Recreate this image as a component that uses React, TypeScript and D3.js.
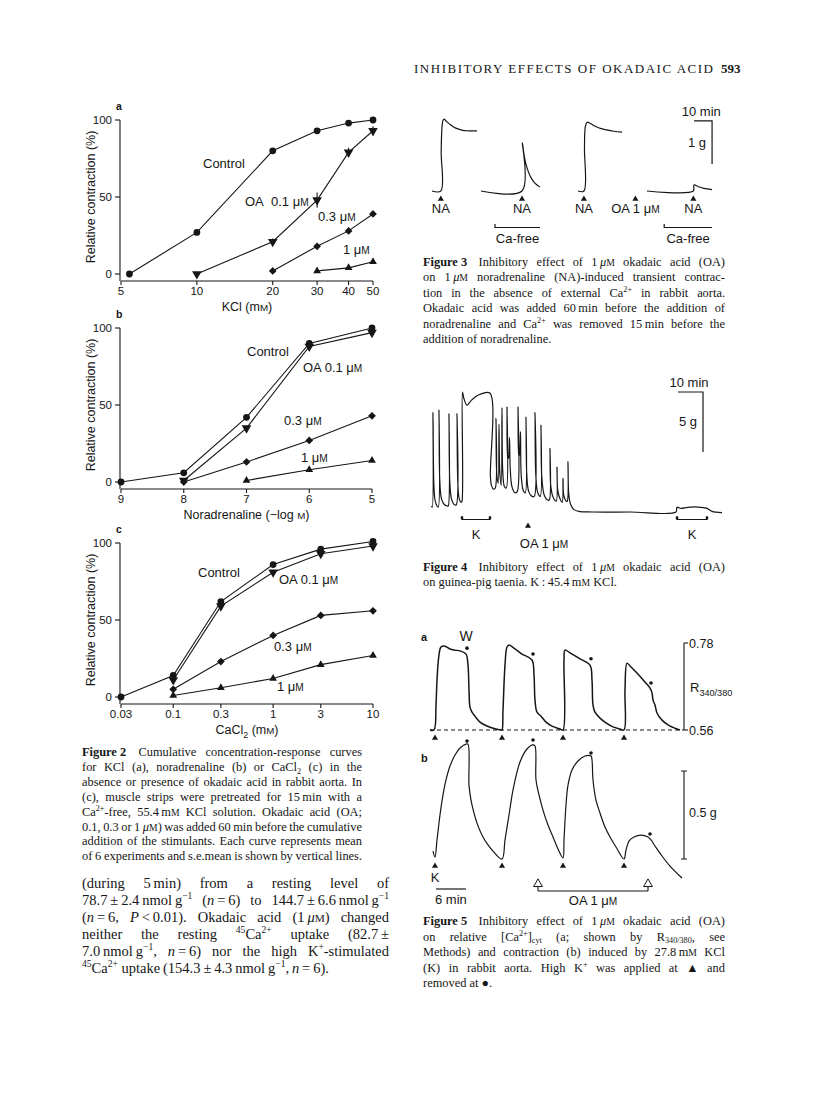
import React from 'react';
import * as d3 from 'd3';

const SANS = '"Liberation Sans", Arial, Helvetica, sans-serif';
const SERIF = '"Liberation Serif", "Times New Roman", Times, serif';
const INK = '#161616';

// running head
const runningHead = 'INHIBITORY EFFECTS OF OKADAIC ACID';
const pageNumber = '593';

// ---------- Figure 2 (relative contraction, %) ----------
const yTicks = [0, 50, 100];

const kclTicks = [5, 10, 20, 30, 40, 50];
const kclControl = [[5.4, 0], [10, 27], [20, 80], [30, 93], [40, 98], [50, 100]];
const kclOA01 = [[10, 0], [20, 21], [30, 48], [40, 79], [50, 93]];
const kclOA01Sem = [0, 2, 5, 3, 3];
const kclOA03 = [[20, 2], [30, 18], [40, 28], [50, 39]];
const kclOA1 = [[30, 2], [40, 4], [50, 8]];

const naTicks = [9, 8, 7, 6, 5];
const naControl = [[9, 0], [8, 6], [7, 42], [6, 90], [5, 100]];
const naOA01 = [[8, 1], [7, 35], [6, 88], [5, 97]];
const naOA03 = [[8, 0], [7, 13], [6, 27], [5, 43]];
const naOA1 = [[7, 1], [6, 8], [5, 14]];

const caTicks = [0.03, 0.1, 0.3, 1, 3, 10];
const caControl = [[0.03, 0], [0.1, 14], [0.3, 62], [1, 86], [3, 96], [10, 101]];
const caOA01 = [[0.1, 11], [0.3, 59], [1, 81], [3, 93], [10, 98]];
const caOA03 = [[0.1, 5], [0.3, 23], [1, 40], [3, 53], [10, 56]];
const caOA1 = [[0.1, 1], [0.3, 6], [1, 12], [3, 21], [10, 27]];

const titleA = 'KCl (m{M})';
const titleB = 'Noradrenaline (\u2212log {M})';
const titleC = 'CaCl_{2} (m{M})';

// ---------- Figure 3 (tension g vs min) ----------
const fig3Trace1 = [[0, 0], [4.9, 0], [5.1, 0.9], [5.5, 1.45], [6.1, 1.64], [6.8, 1.67], [8, 1.62], [10, 1.55], [12, 1.49], [14, 1.45], [17, 1.41], [20, 1.4], [25, 1.4]];
const fig3Trace2 = [[27.2, 0], [50, 0], [50.2, 1.12], [51, 0.88], [52, 0.66], [53.5, 0.45], [55, 0.31], [57, 0.19], [60, 0.09]];
const fig3Trace3 = [[81.1, 0], [84.4, 0], [84.7, 1.0], [85.2, 1.5], [86.2, 1.6], [88, 1.57], [91, 1.5], [94, 1.45], [97, 1.42], [101, 1.39], [105.6, 1.37]];
const fig3Trace4 = [[119.4, 0], [145.2, 0], [145.5, 0.14], [148, 0.1], [151, 0.06], [155.6, 0.03]];
const fig3Stim = [[4.9, 'NA'], [50, 'NA'], [84.4, 'NA'], [113, 'OA 1 μ{M}'], [145.2, 'NA']];
const fig3CaFree = [[35, 60], [129, 155.6]];

// ---------- Figure 4 (tension g vs min) ----------
const fig4Trace = [
  [0.6, 0.5], [0.9, 0.4], [1.2, 8.3], [1.5, 2.6], [2.0, 1.0], [2.8, 0.5], [3.3, 0.4], [3.6, 8.5], [3.9, 2.7], [4.6, 1.1],
  [5.8, 0.6], [7.0, 0.5], [7.3, 0.5], [7.6, 8.2], [7.9, 2.6], [8.6, 1.1], [9.8, 0.6], [10.5, 0.6], [10.8, 8.2], [11.1, 2.6],
  [11.7, 1.1], [12.5, 0.8], [12.8, 0.9], [13.0, 10.0], [13.5, 9.5], [14.8, 8.9], [16.5, 9.3], [18.5, 9.65], [20.5, 9.85], [24.0, 9.9],
  [24.15, 3.0], [24.6, 2.2], [25.4, 1.9], [26.1, 2.0], [26.4, 7.8], [26.7, 3.2], [27.3, 2.4], [27.6, 7.3], [27.9, 3.4], [28.5, 2.2],
  [28.8, 8.7], [29.1, 3.4], [29.8, 2.1], [30.5, 2.0], [30.8, 8.75], [31.1, 4.4], [31.5, 4.6], [31.8, 6.2], [32.1, 3.6], [32.8, 2.1],
  [34.0, 1.6], [34.9, 1.7], [35.2, 8.75], [35.5, 4.6], [35.9, 4.9], [36.2, 6.7], [36.5, 3.0], [37.3, 1.8], [38.1, 1.6], [38.4, 7.9],
  [38.7, 3.2], [39.5, 1.7], [40.8, 1.3], [41.7, 1.3], [42.0, 8.3], [42.3, 3.2], [43.1, 1.6], [44.1, 1.3], [44.4, 7.25], [44.7, 3.0],
  [45.7, 1.4], [47.0, 1.0], [47.7, 1.0], [48.0, 5.3], [48.3, 2.2], [49.3, 1.2], [50.5, 0.9], [50.8, 3.75], [51.1, 1.8], [52.2, 1.0],
  [52.9, 0.8], [53.2, 2.8], [53.5, 1.4], [54.5, 0.9], [54.9, 0.9], [55.2, 4.2], [55.5, 1.5], [56.3, 0.6], [57.6, 0.2], [59.5, 0.05],
  [65, 0], [80, 0], [98.4, 0], [98.8, 0.4], [100.4, 0.3], [103, 0.38], [106, 0.42], [108.5, 0.38], [110.8, 0.3], [112.8, 0.05], [116.8, -0.05],
];
const fig4OA = 39.2;
const fig4K = [[12.8, 24.0], [98.8, 110.8]];

// ---------- Figure 5 ----------
const fig5aTrace = [
  [0, 0.56], [0.8, 0.56], [1.2, 0.623], [1.4, 0.686], [1.8, 0.75], [2.2, 0.77], [3.0, 0.772], [4.0, 0.765], [5.0, 0.762], [6.0, 0.76],
  [7.2, 0.752], [7.6, 0.724], [7.8, 0.661], [8.0, 0.618], [8.4, 0.605], [9.0, 0.595], [10.0, 0.58], [11.4, 0.57], [13.0, 0.563], [14.2, 0.56],
  [14.4, 0.56], [14.6, 0.61], [15.0, 0.724], [15.4, 0.77], [15.8, 0.775], [17.0, 0.765], [18.4, 0.752], [20.4, 0.737], [20.8, 0.699], [21.0, 0.636],
  [21.4, 0.605], [22.2, 0.595], [23.2, 0.58], [24.4, 0.57], [26.0, 0.5625], [26.6, 0.56],
  [26.8, 0.737], [27.0, 0.762], [28.0, 0.755], [30.0, 0.74], [32.0, 0.724], [32.4, 0.686], [32.6, 0.623], [33.0, 0.605], [34.0, 0.59],
  [35.2, 0.578], [36.6, 0.568], [38.0, 0.5625], [38.8, 0.56],
  [39.0, 0.661], [39.4, 0.729], [40.0, 0.722], [41.4, 0.704], [43.0, 0.681], [44.0, 0.666], [44.4, 0.654], [44.6, 0.636], [45.0, 0.623],
  [45.4, 0.603], [46.4, 0.585], [47.6, 0.573], [49.4, 0.5625], [50.0, 0.56],
];
const fig5bTrace = [
  [0.6, 0.045], [1.0, 0.011], [1.4, 0.108], [2.0, 0.25], [2.6, 0.364], [3.2, 0.449], [4.0, 0.528], [5.0, 0.591], [6.0, 0.631], [7.2, 0.653],
  [7.6, 0.653], [7.8, 0.42], [8.2, 0.335], [8.8, 0.261], [9.6, 0.188], [10.6, 0.125], [11.6, 0.08], [12.6, 0.045], [14.4, 0.0],
  [15.0, 0.108], [15.8, 0.25], [16.6, 0.392], [18.0, 0.551], [19.4, 0.625], [20.6, 0.648], [21.0, 0.642], [21.2, 0.449], [21.8, 0.364],
  [22.6, 0.278], [23.6, 0.193], [24.6, 0.125], [25.6, 0.057], [26.6, 0.006],
  [26.8, 0.108], [27.2, 0.307], [27.6, 0.42], [28.4, 0.506], [29.6, 0.557], [31.0, 0.585], [32.2, 0.585], [32.4, 0.5625], [32.6, 0.449],
  [33.2, 0.335], [34.0, 0.261], [35.0, 0.182], [36.0, 0.125], [37.2, 0.068], [38.8, 0.0],
  [39.2, 0.051], [39.8, 0.102], [40.8, 0.125], [42.2, 0.136], [43.6, 0.125], [44.2, 0.108], [45.0, 0.074], [46.4, 0.017], [48.0, -0.04], [50.4, -0.108],
];
const fig5Stim = [1.0, 14.4, 26.6, 38.8];
const fig5aWash = [[7.4, 0.767], [20.6, 0.752], [32.2, 0.74], [44.2, 0.679]];
const fig5bWash = [[7.4, 0.67], [20.6, 0.676], [32.2, 0.602], [44.0, 0.142]];
const fig5OA = [21.6, 43.6];

// ---------- text blocks ----------
const caption2 = [
  '!{Figure\u00a02}\u00a0 Cumulative concentration-response curves',
  'for KCl (a), noradrenaline (b) or CaCl_{2} (c) in the',
  'absence or presence of okadaic acid in rabbit aorta. In',
  '(c), muscle strips were pretreated for 15\u2009min with a',
  'Ca^{2+}-free, 55.4\u2009m~{m} KCl solution. Okadaic acid (OA;',
  '0.1, 0.3 or 1\u2009*{μ}~{m}) was added 60\u2009min before the cumulative',
  'addition of the stimulants. Each curve represents mean',
  'of 6 experiments and s.e.mean is shown by vertical lines.',
];
const bodyText = [
  '(during 5\u2009min) from a resting level of',
  '78.7\u2009±\u20092.4\u2009nmol\u2009g^{\u22121} (*{n}\u2009=\u20096) to 144.7\u2009±\u20096.6\u2009nmol\u2009g^{\u22121}',
  '(*{n}\u2009=\u20096, *{P}\u2009<\u20090.01). Okadaic acid (1\u2009*{μ}~{m}) changed',
  'neither the resting ^{45}Ca^{2+} uptake (82.7\u2009±',
  '7.0\u2009nmol\u2009g^{\u22121}, *{n}\u2009=\u20096) nor the high K^{+}-stimulated',
  '^{45}Ca^{2+} uptake\u2009(154.3\u2009±\u20094.3\u2009nmol\u2009g^{\u22121},\u2009*{n}\u2009=\u20096).',
];
const caption3 = [
  '!{Figure\u00a03}\u00a0 Inhibitory effect of 1\u2009*{μ}~{m} okadaic acid (OA)',
  'on 1\u2009*{μ}~{m} noradrenaline (NA)-induced transient contrac-',
  'tion in the absence of external Ca^{2+} in rabbit aorta.',
  'Okadaic acid was added 60\u2009min before the addition of',
  'noradrenaline and Ca^{2+} was removed 15\u2009min before the',
  'addition of noradrenaline.',
];
const caption4 = [
  '!{Figure\u00a04}\u00a0 Inhibitory effect of 1\u2009*{μ}~{m} okadaic acid (OA)',
  'on guinea-pig taenia. K\u2009:\u200945.4\u2009m~{m} KCl.',
];
const caption5 = [
  '!{Figure\u00a05}\u00a0 Inhibitory effect of 1\u2009*{μ}~{m} okadaic acid (OA)',
  'on relative [Ca^{2+}]_{cyt} (a; shown by R_{340/380}, see',
  'Methods) and contraction (b) induced by 27.8\u2009m~{m} KCl',
  '(K) in rabbit aorta. High K^{+} was applied at \u25b2 and',
  'removed at \u25cf.',
];

// ---------- helpers ----------
let ctx: CanvasRenderingContext2D | null = null;
function measure(t: string, font: string) {
  if (!ctx) ctx = document.createElement('canvas').getContext('2d');
  ctx!.font = font;
  return ctx!.measureText(t).width;
}

type Seg = { t: string; k: string };
function parseWord(w: string): Seg[] {
  const out: Seg[] = [];
  const re = /([\^_~*!])\{([^}]*)\}/g;
  let last = 0;
  let m: RegExpExecArray | null;
  while ((m = re.exec(w))) {
    if (m.index > last) out.push({ t: w.slice(last, m.index), k: '' });
    out.push({ t: m[2], k: m[1] });
    last = re.lastIndex;
  }
  if (last < w.length) out.push({ t: w.slice(last), k: '' });
  return out;
}

function segStyle(s: Seg, fs: number) {
  const size = s.k === '^' || s.k === '_' ? fs * 0.66 : s.k === '~' ? fs * 0.78 : fs;
  return {
    size,
    italic: s.k === '*',
    bold: s.k === '!',
    dy: s.k === '^' ? -fs * 0.38 : s.k === '_' ? fs * 0.22 : 0,
    text: s.k === '~' ? s.t.toUpperCase() : s.t,
  };
}

function Para({ lines, x, y, width, lh, fs, ragged = [] }: { lines: string[]; x: number; y: number; width: number; lh: number; fs: number; ragged?: number[] }) {
  const space = measure(' ', `${fs}px ${SERIF}`);
  return (
    <g fontFamily={SERIF} fontSize={fs} fill={INK}>
      {lines.map((ln, i) => {
        const words = ln.split(' ').filter(Boolean).map(parseWord);
        const widths = words.map(w =>
          w.reduce((a, s) => {
            const st = segStyle(s, fs);
            return a + measure(st.text, `${st.italic ? 'italic ' : ''}${st.bold ? 'bold ' : ''}${st.size}px ${SERIF}`);
          }, 0)
        );
        const total = widths.reduce((a, b) => a + b, 0);
        const gap = ragged.includes(i) || words.length < 2 ? space : Math.max(space * 0.5, (width - total) / (words.length - 1));
        let cx = x;
        return words.map((w, j) => {
          let cur = 0;
          const node = (
            <text key={`${i}-${j}`} x={cx} y={y + i * lh}>
              {w.map((s, k) => {
                const st = segStyle(s, fs);
                const d = st.dy - cur;
                cur = st.dy;
                return (
                  <tspan key={k} dy={d ? d : undefined} fontSize={st.size} fontStyle={st.italic ? 'italic' : undefined} fontWeight={st.bold ? 'bold' : undefined}>
                    {st.text}
                  </tspan>
                );
              })}
            </text>
          );
          cx += widths[j] + gap;
          return node;
        });
      })}
    </g>
  );
}

function SansText({ x, y, s, size = 13, anchor = 'start', weight }: { x: number; y: number; s: string; size?: number; anchor?: string; weight?: string }) {
  const tokens = s.split(/(\{M\}|_\{[^}]*\})/).filter(t => t !== '');
  let cur = 0;
  return (
    <text x={x} y={y} fontFamily={SANS} fontSize={size} textAnchor={anchor} fontWeight={weight} fill={INK}>
      {tokens.map((t, i) => {
        let txt = t;
        let fs = size;
        let dy = 0;
        if (t === '{M}') { txt = 'M'; fs = size * 0.78; }
        else if (t.startsWith('_{')) { txt = t.slice(2, -1); fs = size * 0.7; dy = size * 0.28; }
        const d = dy - cur;
        cur = dy;
        return <tspan key={i} fontSize={fs} dy={d ? d : undefined}>{txt}</tspan>;
      })}
    </text>
  );
}

const symCircle = d3.symbol().type(d3.symbolCircle).size(36)()!;
const symTri = d3.symbol().type(d3.symbolTriangle).size(40)()!;
const symSquare = d3.symbol().type(d3.symbolSquare).size(30)()!;
const symSmallTri = d3.symbol().type(d3.symbolTriangle).size(26)()!;
const symArrow = d3.symbol().type(d3.symbolTriangle).size(16)()!;
const symOpenTri = d3.symbol().type(d3.symbolTriangle).size(34)()!;

function Marker({ kind, cx, cy }: { kind: string; cx: number; cy: number }) {
  const d = kind === 'circle' ? symCircle : kind === 'down' ? symTri : kind === 'diamond' ? symSquare : symSmallTri;
  const rot = kind === 'down' ? ' rotate(180)' : kind === 'diamond' ? ' rotate(45)' : '';
  return <path d={d} transform={`translate(${cx},${cy})${rot}`} fill={INK} />;
}

type Series = { pts: number[][]; kind: string; sem?: number[] };

function DosePanel({ letter, y0, x, ticks, tickFmt, series, labels, title }: {
  letter: string; y0: number; x: any; ticks: number[]; tickFmt: (v: number) => string;
  series: Series[]; labels: [string, number, number][]; title: string;
}) {
  const y = d3.scaleLinear().domain([0, 100]).range([y0, y0 - 154]);
  const axisY = y0 + 7;
  const axisX = 120;
  const [xa, xb] = x.range();
  const line = d3.line<number[]>().x(d => x(d[0])).y(d => y(d[1]));
  return (
    <g>
      <text x={axisX - 4} y={y(100) - 10} fontFamily={SANS} fontSize={10.5} fontWeight="bold" fill={INK}>{letter}</text>
      <line x1={axisX} x2={axisX} y1={y(100)} y2={axisY} stroke={INK} strokeWidth={1.1} />
      {yTicks.map(v => (
        <g key={v}>
          <line x1={axisX - 5} x2={axisX} y1={y(v)} y2={y(v)} stroke={INK} strokeWidth={1.1} />
          <text x={axisX - 8} y={y(v) + 4} textAnchor="end" fontFamily={SANS} fontSize={11.5} fill={INK}>{v}</text>
        </g>
      ))}
      <line x1={xa} x2={xb} y1={axisY} y2={axisY} stroke={INK} strokeWidth={1.1} />
      {ticks.map(v => (
        <g key={v}>
          <line x1={x(v)} x2={x(v)} y1={axisY} y2={axisY + 4} stroke={INK} strokeWidth={1.1} />
          <text x={x(v)} y={axisY + 14} textAnchor="middle" fontFamily={SANS} fontSize={11.5} fill={INK}>{tickFmt(v)}</text>
        </g>
      ))}
      <SansText x={(xa + xb) / 2} y={axisY + 30} s={title} size={12.5} anchor="middle" />
      <text transform={`translate(95,${y(50)}) rotate(-90)`} textAnchor="middle" fontFamily={SANS} fontSize={12.5} fill={INK}>Relative contraction (%)</text>
      {series.map((s, i) => (
        <g key={i}>
          <path d={line(s.pts)!} fill="none" stroke={INK} strokeWidth={1.1} />
          {s.sem && s.pts.map((p, j) => s.sem![j] > 0 && (
            <line key={j} x1={x(p[0])} x2={x(p[0])} y1={y(p[1] - s.sem![j])} y2={y(p[1] + s.sem![j])} stroke={INK} strokeWidth={1.1} />
          ))}
          {s.pts.map((p, j) => <Marker key={j} kind={s.kind} cx={x(p[0])} cy={y(p[1])} />)}
        </g>
      ))}
      {labels.map(([t, lx, ly]) => <SansText key={t} x={lx} y={ly} s={t} />)}
    </g>
  );
}

function Figure2() {
  const xa = d3.scaleLog().domain([5, 50]).range([121, 373]);
  const xb = d3.scaleLinear().domain([9, 5]).range([121, 372]);
  const xc = d3.scaleLog().domain([0.03, 10]).range([121, 373]);
  return (
    <g>
      <DosePanel letter="a" y0={274} x={xa} ticks={kclTicks} tickFmt={v => String(v)} title={titleA}
        series={[
          { pts: kclControl, kind: 'circle' },
          { pts: kclOA01, kind: 'down', sem: kclOA01Sem },
          { pts: kclOA03, kind: 'diamond' },
          { pts: kclOA1, kind: 'up' },
        ]}
        labels={[['Control', 203, 168], ['OA\u00a0 0.1 μ{M}', 245, 206], ['0.3 μ{M}', 318, 221], ['1 μ{M}', 343, 254]]} />
      <DosePanel letter="b" y0={482} x={xb} ticks={naTicks} tickFmt={v => String(v)} title={titleB}
        series={[
          { pts: naControl, kind: 'circle' },
          { pts: naOA01, kind: 'down' },
          { pts: naOA03, kind: 'diamond' },
          { pts: naOA1, kind: 'up' },
        ]}
        labels={[['Control', 247, 356], ['OA 0.1 μ{M}', 303, 372], ['0.3 μ{M}', 284, 425], ['1 μ{M}', 301, 462]]} />
      <DosePanel letter="c" y0={697} x={xc} ticks={caTicks} tickFmt={v => String(v)} title={titleC}
        series={[
          { pts: caControl, kind: 'circle' },
          { pts: caOA01, kind: 'down' },
          { pts: caOA03, kind: 'diamond' },
          { pts: caOA1, kind: 'up' },
        ]}
        labels={[['Control', 198, 577], ['OA 0.1 μ{M}', 279, 584], ['0.3 μ{M}', 274, 651], ['1 μ{M}', 277, 691]]} />
    </g>
  );
}

const traceCurve = d3.curveCatmullRom.alpha(0.5);

function Figure3() {
  const x = d3.scaleLinear().domain([0, 100]).range([432, 612]);
  const y = d3.scaleLinear().domain([0, 1]).range([191, 148]);
  const line = d3.line<number[]>().x(d => x(d[0])).y(d => y(d[1])).curve(traceCurve);
  const bar = { t: 145.6, g: 1.63 };
  return (
    <g>
      {[fig3Trace1, fig3Trace2, fig3Trace3, fig3Trace4].map((tr, i) => (
        <path key={i} d={line(tr)!} fill="none" stroke={INK} strokeWidth={1.2} />
      ))}
      {fig3Stim.map(([t, l], i) => (
        <g key={i}>
          <path d={symArrow} transform={`translate(${x(t as number)},199)`} fill={INK} />
          <SansText x={x(t as number)} y={213} s={l as string} anchor="middle" />
        </g>
      ))}
      {fig3CaFree.map(([a, b], i) => (
        <g key={i}>
          <path d={`M${x(a)},224 L${x(a)},227.5 L${x(b)},227.5`} fill="none" stroke={INK} strokeWidth={1.2} />
          <SansText x={(x(a) + x(b)) / 2} y={243} s="Ca-free" anchor="middle" />
        </g>
      ))}
      <path d={`M${x(bar.t)},${y(bar.g)} L${x(bar.t + 10)},${y(bar.g)} L${x(bar.t + 10)},${y(bar.g - 1)}`} fill="none" stroke={INK} strokeWidth={1.2} />
      <SansText x={x(bar.t + 4)} y={116} s="10 min" anchor="middle" />
      <SansText x={x(bar.t + 10) - 6} y={147} s="1 g" anchor="end" />
    </g>
  );
}

function Figure4() {
  const x = d3.scaleLinear().domain([0, 100]).range([430, 680]);
  const y = d3.scaleLinear().domain([0, 5]).range([512, 452]);
  const line = d3.line<number[]>().x(d => x(d[0])).y(d => y(d[1])).curve(traceCurve);
  return (
    <g>
      <path d={line(fig4Trace)!} fill="none" stroke={INK} strokeWidth={1.2} />
      {fig4K.map(([a, b], i) => (
        <g key={i}>
          <path d={`M${x(a)},516 L${x(a)},519.5 L${x(b)},519.5 L${x(b)},516`} fill="none" stroke={INK} strokeWidth={1.2} />
          <circle cx={x(a)} cy={518} r={1.4} fill={INK} />
          <circle cx={x(b)} cy={518} r={1.4} fill={INK} />
          <SansText x={(x(a) + x(b)) / 2} y={539} s="K" anchor="middle" />
        </g>
      ))}
      <path d={symArrow} transform={`translate(${x(fig4OA)},526)`} fill={INK} />
      <SansText x={x(fig4OA) + 16} y={548} s="OA 1 μ{M}" anchor="middle" />
      <path d={`M${x(99.2)},${y(10)} L${x(109.2)},${y(10)} L${x(109.2)},${y(5)}`} fill="none" stroke={INK} strokeWidth={1.2} />
      <SansText x={x(103.6)} y={387} s="10 min" anchor="middle" />
      <SansText x={x(109.2) - 6} y={426} s="5 g" anchor="end" />
    </g>
  );
}

function Figure5() {
  const x = d3.scaleLinear().domain([0, 50]).range([430, 680]);
  const ya = d3.scaleLinear().domain([0.56, 0.78]).range([730, 643]);
  const yb = d3.scaleLinear().domain([0, 0.5]).range([859, 771]);
  const la = d3.line<number[]>().x(d => x(d[0])).y(d => ya(d[1])).curve(traceCurve);
  const lb = d3.line<number[]>().x(d => x(d[0])).y(d => yb(d[1])).curve(traceCurve);
  const axT = 50.8;
  return (
    <g>
      <text x={421} y={641} fontFamily={SANS} fontSize={11} fontWeight="bold" fill={INK}>a</text>
      <text x={421} y={762} fontFamily={SANS} fontSize={11} fontWeight="bold" fill={INK}>b</text>
      <line x1={x(0)} x2={x(axT)} y1={ya(0.56)} y2={ya(0.56)} stroke={INK} strokeWidth={1} strokeDasharray="4 3" />
      <path d={la(fig5aTrace)!} fill="none" stroke={INK} strokeWidth={1.5} />
      {fig5aWash.map(([t, v], i) => <circle key={i} cx={x(t)} cy={ya(v)} r={1.8} fill={INK} />)}
      <SansText x={x(7.2)} y={641} s="W" anchor="middle" size={14} />
      <line x1={x(axT)} x2={x(axT)} y1={ya(0.78)} y2={ya(0.56)} stroke={INK} strokeWidth={1.1} />
      {[0.78, 0.56].map(v => (
        <g key={v}>
          <line x1={x(axT)} x2={x(axT) + 4} y1={ya(v)} y2={ya(v)} stroke={INK} strokeWidth={1.1} />
          <SansText x={x(axT) + 5} y={ya(v) + 4.5} s={v.toFixed(2)} size={12.5} />
        </g>
      ))}
      <SansText x={x(axT) + 6} y={692} s="R_{340/380}" size={13} />
      {fig5Stim.map((t, i) => (
        <g key={i}>
          <path d={symArrow} transform={`translate(${x(t)},738)`} fill={INK} />
          <path d={symArrow} transform={`translate(${x(t)},866)`} fill={INK} />
        </g>
      ))}
      <path d={lb(fig5bTrace)!} fill="none" stroke={INK} strokeWidth={1.2} />
      {fig5bWash.map(([t, v], i) => <circle key={i} cx={x(t)} cy={yb(v)} r={1.8} fill={INK} />)}
      <path d={`M${x(axT) - 3},${yb(0.5)} L${x(axT) + 3},${yb(0.5)} M${x(axT)},${yb(0.5)} L${x(axT)},${yb(0)} M${x(axT) - 3},${yb(0)} L${x(axT) + 3},${yb(0)}`} fill="none" stroke={INK} strokeWidth={1.1} />
      <SansText x={x(axT) + 5} y={817} s="0.5 g" size={12.5} />
      <SansText x={x(fig5Stim[0])} y={882} s="K" anchor="middle" />
      <line x1={x(1.2)} x2={x(7.2)} y1={889} y2={889} stroke={INK} strokeWidth={1.2} />
      <SansText x={x(1)} y={904} s="6 min" />
      {fig5OA.map((t, i) => (
        <g key={i}>
          <path d={symOpenTri} transform={`translate(${x(t)},884)`} fill="#fff" stroke={INK} strokeWidth={1} />
          <line x1={x(t)} x2={x(t)} y1={887} y2={891} stroke={INK} strokeWidth={1.1} />
        </g>
      ))}
      <line x1={x(fig5OA[0])} x2={x(fig5OA[1])} y1={891} y2={891} stroke={INK} strokeWidth={1.1} />
      <SansText x={(x(fig5OA[0]) + x(fig5OA[1])) / 2} y={905} s="OA 1 μ{M}" anchor="middle" />
    </g>
  );
}

export default function App() {
  return (
    <div style={{ position: 'absolute', left: 0, top: 0 }}>
      <svg width={816} height={1112} viewBox="0 0 816 1112" style={{ display: 'block', background: '#fff' }}>
        <rect width={816} height={1112} fill="#fff" />
        <text x={414} y={73} fontFamily={SERIF} fontSize={13} textLength={299} lengthAdjust="spacing" fill={INK}>{runningHead}</text>
        <text x={721} y={73} fontFamily={SERIF} fontSize={13} fontWeight="bold" fill={INK}>{pageNumber}</text>
        <Figure2 />
        <Para lines={caption2} x={82} y={756} width={280} lh={14.9} fs={12.4} />
        <Para lines={bodyText} x={82} y={888} width={307} lh={17} fs={14.5} ragged={[5]} />
        <Figure3 />
        <Para lines={caption3} x={423} y={266} width={302} lh={15.4} fs={12.4} ragged={[5]} />
        <Figure4 />
        <Para lines={caption4} x={423} y={571} width={302} lh={15.4} fs={12.4} ragged={[1]} />
        <Figure5 />
        <Para lines={caption5} x={423} y={925} width={302} lh={15.6} fs={12.4} ragged={[4]} />
      </svg>
    </div>
  );
}
